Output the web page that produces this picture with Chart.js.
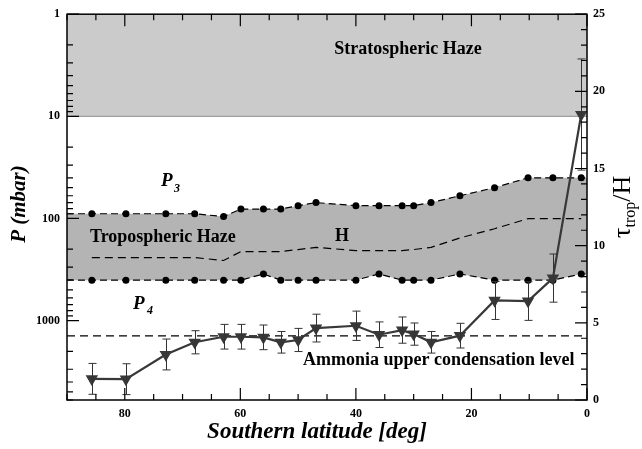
<!DOCTYPE html>
<html>
<head>
<meta charset="utf-8">
<script src="https://cdn.jsdelivr.net/npm/chart.js@4.4.1/dist/chart.umd.min.js"></script>
<style>
  html, body { margin: 0; padding: 0; background: #fff; }
</style>
</head>
<body>
<canvas id="chart" width="642" height="449"></canvas>
<script>
// southern latitude of each retrieval (deg)
const latitudes = [85.7, 79.8, 72.9, 67.9, 62.9, 59.9, 56, 53, 50, 46.9, 40, 36, 32, 30, 27, 22, 16, 10.2, 5.9, 1];
// top (P3) and bottom (P4) of the tropospheric haze, mbar
const p3 = [90, 90, 90, 90, 96, 81, 81, 81, 75, 70, 75, 75, 75, 75, 70, 60, 50, 40, 40, 40];
const p4 = [402, 402, 402, 402, 402, 402, 350, 402, 402, 402, 402, 350, 402, 402, 402, 350, 402, 402, 402, 350];
// H dashed line inside the haze (right axis)
const hScale = [9.23, 9.23, 9.23, 9.23, 9.04, 9.62, 9.62, 9.62, 9.75, 9.89, 9.68, 9.68, 9.68, 9.75, 9.89, 10.5, 11.1, 11.75, 11.75, 11.75];
// tau_trop / H with its error bar (right axis)
const tau = [1.37, 1.35, 2.95, 3.74, 4.1, 4.1, 4.06, 3.74, 3.89, 4.66, 4.81, 4.23, 4.53, 4.27, 3.74, 4.17, 6.45, 6.41, 7.9, 18.5];
const tauErr = [1.0, 1.0, 1.0, 0.75, 0.8, 0.8, 0.8, 0.7, 0.75, 0.9, 0.95, 0.83, 0.85, 0.72, 0.7, 0.8, 1.23, 1.25, 1.56, 3.6];
// horizontal levels, mbar
const stratBase = 10;
const ammoniaLevel = 1410;
const latRange = [90, 0];

// axis ticks
const latTicks = [0, 5, 10, 15, 20, 25, 30, 35, 40, 45, 50, 55, 60, 65, 70, 75, 80, 85, 90];
const latLabels = [0, 20, 40, 60, 80];
const pTicks = [1, 2, 3, 4, 5, 6, 7, 8, 9, 10, 20, 30, 40, 50, 60, 70, 80, 90,
  100, 200, 300, 400, 500, 600, 700, 800, 900, 1000, 2000, 3000, 4000, 5000, 6000];
const pLabels = [1, 10, 100, 1000];
const tauTicks = [0, 1, 2, 3, 4, 5, 6, 7, 8, 9, 10, 11, 12, 13, 14, 15, 16, 17, 18, 19, 20, 21, 22, 23, 24, 25];
const tauLabels = [0, 5, 10, 15, 20, 25];

const FONT = '"Liberation Serif", "Times New Roman", serif';
Chart.defaults.font.family = FONT;

const last = latitudes.length - 1;
const withEdges = (vals) => [
  { x: latRange[0], y: vals[0] },
  ...latitudes.map((lat, i) => ({ x: lat, y: vals[i] })),
  { x: latRange[1], y: vals[last] }
];
const edgeRadius = (ctx) => (ctx.dataIndex === 0 || ctx.dataIndex === last + 2) ? 0 : 3.5;

const extras = {
  id: 'extras',
  afterDatasetsDraw(chart) {
    const { ctx, chartArea: a, scales } = chart;
    const x = scales.x, yL = scales.yL, yR = scales.yR;
    ctx.save();

    // error bars
    ctx.strokeStyle = '#333';
    ctx.lineWidth = 1;
    ctx.beginPath();
    latitudes.forEach((lat, i) => {
      const px = Math.round(x.getPixelForValue(lat)) + 0.5;
      const top = yR.getPixelForValue(tau[i] + tauErr[i]);
      const bot = yR.getPixelForValue(tau[i] - tauErr[i]);
      ctx.moveTo(px, top); ctx.lineTo(px, bot);
      ctx.moveTo(px - 4, top); ctx.lineTo(px + 4, top);
      ctx.moveTo(px - 4, bot); ctx.lineTo(px + 4, bot);
    });
    ctx.stroke();

    // inward tick marks
    ctx.strokeStyle = '#000';
    ctx.lineWidth = 1.2;
    ctx.beginPath();
    latTicks.forEach(v => {
      const px = x.getPixelForValue(v);
      const len = latLabels.includes(v) ? 12 : 6;
      ctx.moveTo(px, a.bottom); ctx.lineTo(px, a.bottom - len);
      ctx.moveTo(px, a.top); ctx.lineTo(px, a.top + len);
    });
    pTicks.forEach(v => {
      const py = yL.getPixelForValue(v);
      const len = pLabels.includes(v) ? 12 : 6;
      ctx.moveTo(a.left, py); ctx.lineTo(a.left + len, py);
    });
    tauTicks.forEach(v => {
      const py = yR.getPixelForValue(v);
      const len = tauLabels.includes(v) ? 12 : 6;
      ctx.moveTo(a.right, py); ctx.lineTo(a.right - len, py);
    });
    ctx.stroke();

    // frame
    ctx.lineWidth = 1.5;
    ctx.strokeRect(a.left, a.top, a.right - a.left, a.bottom - a.top);
    ctx.restore();
  },
  afterDraw(chart) {
    const ctx = chart.ctx;
    ctx.save();
    ctx.fillStyle = '#000';
    ctx.textBaseline = 'alphabetic';

    ctx.font = 'bold 18px ' + FONT;
    ctx.textAlign = 'center';
    ctx.fillText('Stratospheric Haze', 408, 54);
    ctx.textAlign = 'left';
    ctx.fillText('Tropospheric Haze', 90, 242);
    ctx.fillText('H', 335, 241);
    ctx.fillText('Ammonia upper condensation level', 303, 365);

    ctx.font = 'bold italic 19px ' + FONT;
    ctx.fillText('P', 161, 186);
    ctx.fillText('P', 133, 309);
    ctx.font = 'bold italic 12px ' + FONT;
    ctx.fillText('3', 174, 192);
    ctx.fillText('4', 147, 314);

    // axis titles
    ctx.font = 'bold italic 23px ' + FONT;
    ctx.textAlign = 'center';
    ctx.fillText('Southern latitude [deg]', 317, 438);

    ctx.save();
    ctx.translate(25, 204);
    ctx.rotate(-Math.PI / 2);
    ctx.font = 'bold italic 21px ' + FONT;
    ctx.fillText('P (mbar)', 0, 0);
    ctx.restore();

    ctx.save();
    ctx.translate(630, 238);
    ctx.rotate(-Math.PI / 2);
    ctx.textAlign = 'left';
    ctx.font = '26px ' + FONT;
    ctx.fillText('\u03c4', 0, 0);
    let w = ctx.measureText('\u03c4').width;
    ctx.font = '16px ' + FONT;
    ctx.fillText('trop', w, 5);
    w += ctx.measureText('trop').width;
    ctx.font = '26px ' + FONT;
    ctx.fillText('/H', w, 0);
    ctx.restore();

    ctx.restore();
  }
};

const tickFont = { family: FONT, size: 12, weight: 'bold' };
const noGrid = { display: false, drawTicks: false };

new Chart(document.getElementById('chart'), {
  type: 'line',
  data: {
    datasets: [
      {
        // tau_trop / H
        data: latitudes.map((lat, i) => ({ x: lat, y: tau[i] })),
        yAxisID: 'yR',
        borderColor: '#383838',
        borderWidth: 2.2,
        pointStyle: 'triangle',
        rotation: 180,
        pointRadius: 5,
        pointBackgroundColor: '#383838',
        pointBorderColor: '#383838',
        order: 1
      },
      {
        // ammonia condensation level
        data: latRange.map(lat => ({ x: lat, y: ammoniaLevel })),
        yAxisID: 'yL',
        borderColor: '#000',
        borderWidth: 1.3,
        borderDash: [8, 5],
        pointRadius: 0,
        order: 2
      },
      {
        // H
        data: latitudes.map((lat, i) => ({ x: lat, y: hScale[i] })),
        yAxisID: 'yR',
        borderColor: '#000',
        borderWidth: 1.2,
        borderDash: [8, 5],
        pointRadius: 0,
        order: 3
      },
      {
        // P3, filled down to P4
        data: withEdges(p3),
        yAxisID: 'yL',
        borderColor: '#000',
        borderWidth: 1.2,
        borderDash: [7, 4],
        pointRadius: edgeRadius,
        pointBackgroundColor: '#000',
        pointBorderWidth: 0,
        fill: '+1',
        backgroundColor: '#b4b4b4',
        order: 5
      },
      {
        // P4
        data: withEdges(p4),
        yAxisID: 'yL',
        borderColor: '#000',
        borderWidth: 1.2,
        borderDash: [7, 4],
        pointRadius: edgeRadius,
        pointBackgroundColor: '#000',
        pointBorderWidth: 0,
        order: 4
      },
      {
        // stratospheric haze
        data: latRange.map(lat => ({ x: lat, y: stratBase })),
        yAxisID: 'yL',
        borderColor: '#8c8c8c',
        borderWidth: 1,
        pointRadius: 0,
        fill: { value: 1 },
        backgroundColor: '#cbcbcb',
        order: 10
      }
    ]
  },
  options: {
    responsive: false,
    animation: false,
    layout: { padding: { top: 10 } },
    plugins: { legend: { display: false }, tooltip: { enabled: false } },
    scales: {
      x: {
        type: 'linear',
        min: 0,
        max: 90,
        reverse: true,
        grid: noGrid,
        border: { display: false },
        afterBuildTicks: s => { s.ticks = latTicks.map(v => ({ value: v })); },
        afterFit: s => { s.height = 49; },
        ticks: {
          autoSkip: false,
          maxRotation: 0,
          padding: 7,
          color: '#000',
          font: tickFont,
          callback: v => latLabels.includes(v) ? String(v) : ''
        }
      },
      yL: {
        type: 'logarithmic',
        position: 'left',
        min: 1,
        max: 6000,
        reverse: true,
        grid: noGrid,
        border: { display: false },
        afterBuildTicks: s => { s.ticks = pTicks.map(v => ({ value: v })); },
        afterFit: s => { s.width = 67; },
        ticks: {
          autoSkip: false,
          padding: 7,
          color: '#000',
          font: tickFont,
          callback: v => pLabels.includes(v) ? String(v) : ''
        }
      },
      yR: {
        type: 'linear',
        position: 'right',
        min: 0,
        max: 25,
        grid: noGrid,
        border: { display: false },
        afterBuildTicks: s => { s.ticks = tauTicks.map(v => ({ value: v })); },
        afterFit: s => { s.width = 55; },
        ticks: {
          autoSkip: false,
          padding: 6,
          color: '#000',
          font: tickFont,
          callback: v => tauLabels.includes(v) ? String(v) : ''
        }
      }
    }
  },
  plugins: [extras]
});
</script>
</body>
</html>
